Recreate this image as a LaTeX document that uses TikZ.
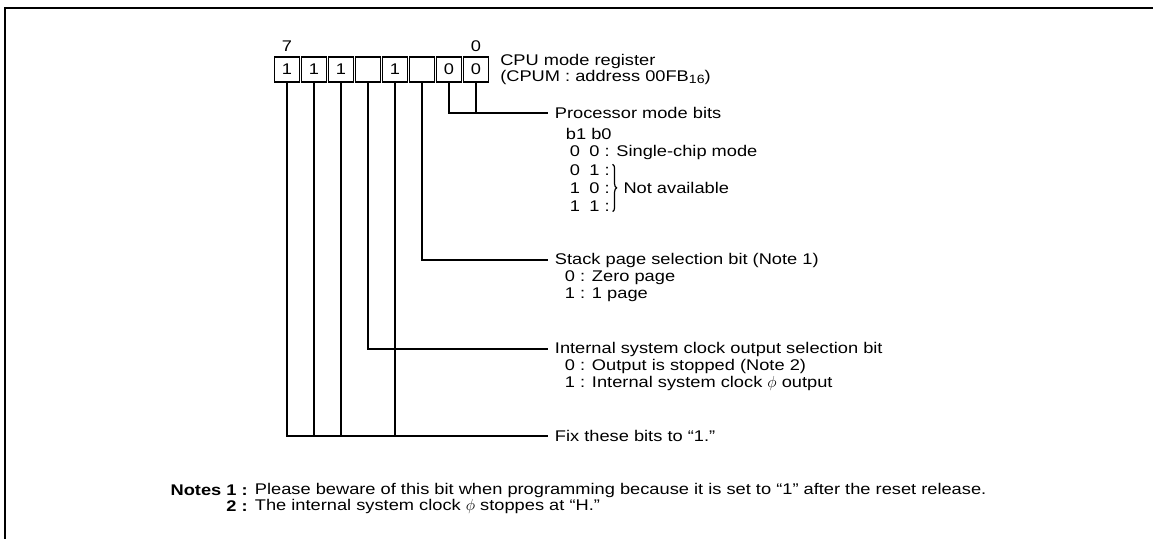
\documentclass[tikz,border=0pt]{standalone}
\usepackage{fontspec}
\setmainfont{Liberation Sans}[FakeStretch=1.18]
\usetikzlibrary{decorations.pathreplacing}
\begin{document}
\begin{tikzpicture}[x=0.75pt,y=-0.75pt,
    font=\fontsize{11.6}{13.2}\selectfont,
    bitcell/.style ={draw, line width=1.2pt, minimum width=19pt, minimum height=19pt, inner sep=0pt},
    txt/.style ={anchor=west, inner xsep=5pt, inner ysep=0pt},
    lead/.style ={line width=1.2pt}]
   \useasboundingbox (0,0) rectangle (1153,539);
   \draw[line width=2.2pt] (5,539) -- (5,8) -- (1153,8);

   \node[bitcell] (b7) [label=90:7] at (287,69.5) {1};
   \node[bitcell] (b6) at (314,69.5) {1};
   \node[bitcell] (b5) at (341,69.5) {1};
   \node[bitcell] (b4) at (368,69.5) {};
   \node[bitcell] (b3) at (395,69.5) {1};
   \node[bitcell] (b2) at (422,69.5) {};
   \node[bitcell] (b1) at (449,69.5) {0};
   \node[bitcell] (b0) [label=90:0] at (476,69.5) {0};
   \node[txt, inner xsep=0pt] (reg) at (500,61) {CPU mode register};
   \node[txt, inner xsep=0pt] (regadr) at (500,77) {(CPUM : address 00FB\raisebox{-0.25ex}{\small 16})};

   \node[txt] (pmb) at (548,113) {Processor mode bits};
   \node[txt] (pmh) at (559,134) {b1 b0};
   \node[txt] (r00) at (563,152) {0\hspace{0.6em}0 : Single-chip mode};
   \node[txt] (r01) at (563,170) {0\hspace{0.6em}1 :};
   \node[txt] (r10) at (563,188) {1\hspace{0.6em}0 :};
   \node[txt] (r11) at (563,206) {1\hspace{0.6em}1 :};
   \draw[decorate, decoration={brace, amplitude=3pt}, line width=0.9pt]
      ([xshift=-3pt]r01.north east) -- ([xshift=-3pt]r11.south east);
   \node[txt] (na) at (r10.east) {Not available};

   \node[txt] (spb) at (548,260) {Stack page selection bit (Note 1)};
   \node[txt] (sp0) at (558,278) {0 : Zero page};
   \node[txt] (sp1) at (558,295) {1 : 1 page};

   \node[txt] (isc) at (548,349) {Internal system clock output selection bit};
   \node[txt] (isc0) at (558,366) {0 : Output is stopped (Note 2)};
   \node[txt] (isc1) at (558,383) {1 : Internal system clock $\phi$ output};

   \node[txt] (fix) at (548,436) {Fix these bits to “1.”};

   \draw[lead] (b1.south) |- (pmb.west);
   \draw[lead] (b0.south) -- (b0.south |- pmb.west);
   \draw[lead] (b2.south) |- (spb.west);
   \draw[lead] (b4.south) |- (isc.west);
   \draw[lead] (b7.south) |- (fix.west);
   \draw[lead] (b6.south) -- (b6.south |- fix.west);
   \draw[lead] (b5.south) -- (b5.south |- fix.west);
   \draw[lead] (b3.south) -- (b3.south |- fix.west);

   \node[anchor=east, inner sep=0pt] (nt1) at (248,490) {\bfseries Notes 1 :};
   \node[txt] (n1) at (nt1.east) {Please beware of this bit when programming because it is set to “1” after the reset release.};
   \node[anchor=east, inner sep=0pt] (nt2) at (248,506) {\bfseries 2 :};
   \node[txt] (n2) at (nt2.east) {The internal system clock $\phi$ stoppes at “H.”};
\end{tikzpicture}
\end{document}
